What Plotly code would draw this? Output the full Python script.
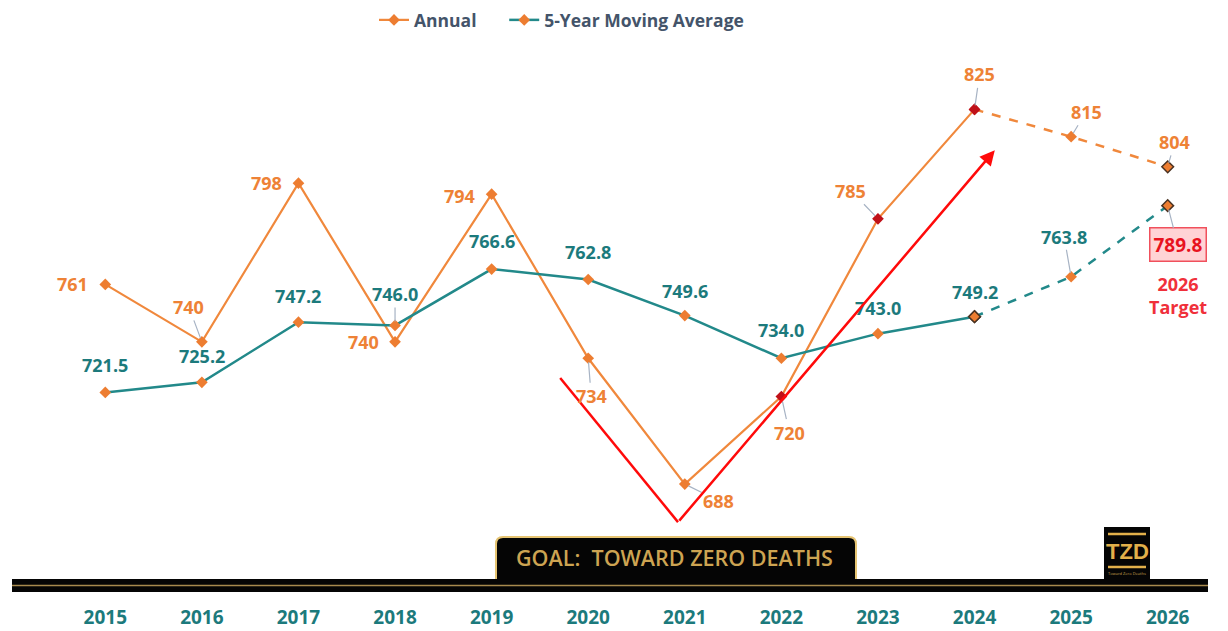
import plotly.graph_objects as go

# ---------------- data ----------------
years = [2015, 2016, 2017, 2018, 2019, 2020, 2021, 2022, 2023, 2024, 2025, 2026]
annual = [761, 740, 798, 740, 794, 734, 688, 720, 785, 825, 815, 804]
moving_avg = [721.5, 725.2, 747.2, 746.0, 766.6, 762.8, 749.6, 734.0, 743.0, 749.2, 763.8, 789.8]
series_names = ["Annual", "5-Year Moving Average"]
target_caption = "2026<br>Target"
goal_text = "GOAL:\u00a0 TOWARD ZERO DEATHS"
logo_text = "TZD"
logo_sub = "Toward Zero Deaths"
last_actual = 2024

# ---------------- styles ----------------
ORANGE = "#ED7D31"
ORANGE_LINE = "#F0883C"
ORANGE_TXT = "#EE8236"
DARKRED = "#C01018"
TEAL = "#22898A"
TEAL_TXT = "#1C7A7C"
OUTLINE = "#4A3222"
LEADER = "#A7B3C4"
GOLD = "#CDA452"
RED = "#FF0A0A"
FONT = "Open Sans"

W, H = 1228, 631
ML, MR, MT, MB = 57, 12, 41, 43
PW, PH = W - ML - MR, H - MT - MB


def px(x):
    return (x - ML) / PW


def py(y):
    return (H - MB - y) / PH


split = years.index(last_actual)
special_red = {2022, 2023, 2024}
outlined_ann = {2026}
outlined_ma = {2024, 2026}

ann_colors = [DARKRED if y in special_red else ORANGE for y in years]
ann_lc = [OUTLINE if y in outlined_ann else "rgba(0,0,0,0)" for y in years]
ann_lw = [1.5 if y in outlined_ann else 0 for y in years]
ma_colors = [ORANGE for _ in years]
ma_lc = [OUTLINE if y in outlined_ma else "rgba(0,0,0,0)" for y in years]
ma_lw = [1.5 if y in outlined_ma else 0 for y in years]

fig = go.Figure()

# dashed projections (drawn first)
fig.add_trace(go.Scatter(
    x=years[split:], y=annual[split:], mode="lines+markers", showlegend=False,
    line=dict(color=ORANGE_LINE, width=2.5, dash="dash"),
    marker=dict(symbol="diamond", size=9, color=ann_colors[split:],
                line=dict(color=ann_lc[split:], width=ann_lw[split:])),
    hoverinfo="skip"))
fig.add_trace(go.Scatter(
    x=years[split:], y=moving_avg[split:], mode="lines+markers", showlegend=False,
    line=dict(color=TEAL, width=2.5, dash="dash"),
    marker=dict(symbol="diamond", size=9, color=ma_colors[split:],
                line=dict(color=ma_lc[split:], width=ma_lw[split:])),
    hoverinfo="skip"))

# solid actuals
fig.add_trace(go.Scatter(
    x=years[:split + 1], y=annual[:split + 1], mode="lines+markers",
    name=series_names[0] + "\u00a0" * 5,
    line=dict(color=ORANGE_LINE, width=2.2),
    marker=dict(symbol="diamond", size=9, color=ann_colors[:split + 1],
                line=dict(color=ann_lc[:split + 1], width=ann_lw[:split + 1]))))
fig.add_trace(go.Scatter(
    x=years[:split + 1], y=moving_avg[:split + 1], mode="lines+markers", name=series_names[1],
    line=dict(color=TEAL, width=2.5),
    marker=dict(symbol="diamond", size=9, color=ma_colors[:split + 1],
                line=dict(color=ma_lc[:split + 1], width=ma_lw[:split + 1]))))

# ---------------- data labels ----------------
# (ax, ay, leader?) pixel offsets of the label centre from the point
ann_offsets = [(-33, 0, False), (-13, -35, True), (-32, 0, False), (-32, 0, False),
               (-32, 2, False), (3, 38, True), (34, 17, True), (8, 36, True),
               (-27, -28, True), (5, -35, True), (15, -25, True), (7, -25, True)]
ma_offsets = [(0, -27, False), (0, -26, False), (0, -26, False), (0, -31, True),
              (0, -28, False), (0, -27, False), (0, -25, False), (0, -28, False),
              (0, -26, False), (0, -25, False), (-7, -40, True), (10, 39, True)]

annotations = []
for yr, v, (ax, ay, lead) in zip(years, annual, ann_offsets):
    annotations.append(dict(
        x=yr, y=v, xref="x", yref="y", text=f"{v:d}", showarrow=True,
        ax=ax, ay=ay, arrowhead=0, arrowwidth=1.2, standoff=4,
        arrowcolor=LEADER if lead else "rgba(0,0,0,0)",
        font=dict(family=FONT, size=18, color=ORANGE_TXT, weight="bold")))
for i, (yr, v, (ax, ay, lead)) in enumerate(zip(years, moving_avg, ma_offsets)):
    is_target = i == len(years) - 1
    annotations.append(dict(
        x=yr, y=v, xref="x", yref="y", text=f"{v:.1f}", showarrow=True,
        ax=ax, ay=ay, arrowhead=0, arrowwidth=1.2, standoff=4,
        arrowcolor=LEADER if lead else "rgba(0,0,0,0)",
        bgcolor="#FFD3D5" if is_target else None,
        bordercolor="#F0505C" if is_target else None,
        borderwidth=1.5 if is_target else 0, borderpad=3 if is_target else 1,
        font=dict(family=FONT, size=19 if is_target else 18,
                  color="#E8121E" if is_target else TEAL_TXT, weight="bold")))

# target caption
annotations.append(dict(
    x=years[-1], y=moving_avg[-1], xref="x", yref="y", text=target_caption,
    showarrow=True, ax=10, ay=90, arrowcolor="rgba(0,0,0,0)",
    font=dict(family=FONT, size=18, color="#F0303A", weight="bold")))

# red trend "V" arrow (decoration in data coordinates)
v_start = (2019.71, 726.8)
v_bottom = (2020.93, 674.1)
v_tip = (2024.21, 810.1)
annotations.append(dict(
    x=v_tip[0], y=v_tip[1], xref="x", yref="y", ax=v_bottom[0], ay=v_bottom[1],
    axref="x", ayref="y", showarrow=True, arrowhead=2, arrowsize=1.2,
    arrowwidth=2.5, arrowcolor=RED, text=""))

# goal box text
annotations.append(dict(
    x=px(674), y=py(557), xref="paper", yref="paper", xanchor="center", yanchor="middle",
    text=goal_text, showarrow=False,
    font=dict(family=FONT, size=21.5, color=GOLD, weight=600)))
# logo
annotations.append(dict(
    x=px(1127), y=py(551), xref="paper", yref="paper", xanchor="center", yanchor="middle",
    text=logo_text, showarrow=False,
    font=dict(family="Liberation Sans Narrow, Liberation Sans", size=22, color="#E2B04A",
              weight="bold")))
annotations.append(dict(
    x=px(1127), y=py(573), xref="paper", yref="paper", xanchor="center", yanchor="middle",
    text=logo_sub, showarrow=False,
    font=dict(family=FONT, size=4, color="#C9A24E")))


def rounded_top_rect(x0, x1, ytop, ybot, r):
    X0, X1 = px(x0), px(x1)
    Yt, Yb = py(ytop), py(ybot)
    rx, ry = r / PW, r / PH
    return (f"M {X0} {Yb} L {X0} {Yt - ry} Q {X0} {Yt} {X0 + rx} {Yt} "
            f"L {X1 - rx} {Yt} Q {X1} {Yt} {X1} {Yt - ry} L {X1} {Yb} Z")


shapes = [
    # V left leg
    dict(type="line", xref="x", yref="y", x0=v_start[0], y0=v_start[1],
         x1=v_bottom[0], y1=v_bottom[1], line=dict(color=RED, width=2.5)),
    # goal box
    dict(type="path", xref="paper", yref="paper", path=rounded_top_rect(496, 856, 537, 580, 7),
         fillcolor="#050505", line=dict(color="#E6C472", width=2), layer="above"),
    # bottom black ribbon
    dict(type="rect", xref="paper", yref="paper", x0=px(12), x1=px(1208),
         y0=py(579), y1=py(592), fillcolor="#050505", line=dict(width=0), layer="above"),
    dict(type="line", xref="paper", yref="paper", x0=px(12), x1=px(1208),
         y0=py(585.5), y1=py(585.5), line=dict(color="#A88A4E", width=1.5), layer="above"),
    # logo
    dict(type="rect", xref="paper", yref="paper", x0=px(1104), x1=px(1150),
         y0=py(579), y1=py(527), fillcolor="#050505", line=dict(width=0), layer="above"),
    dict(type="line", xref="paper", yref="paper", x0=px(1108), x1=px(1146),
         y0=py(534), y1=py(534), line=dict(color="#E2B04A", width=2.5), layer="above"),
    dict(type="line", xref="paper", yref="paper", x0=px(1108), x1=px(1146),
         y0=py(567), y1=py(567), line=dict(color="#E2B04A", width=2.5), layer="above"),
]

fig.update_layout(
    width=W, height=H,
    margin=dict(l=ML, r=MR, t=MT, b=MB, autoexpand=False),
    paper_bgcolor="white", plot_bgcolor="white",
    showlegend=True,
    legend=dict(orientation="h", x=px(374), xanchor="left", y=py(2), yanchor="top",
                font=dict(family=FONT, size=17.5, color="#44546A", weight="bold"),
                itemwidth=30, traceorder="normal", bgcolor="rgba(0,0,0,0)"),
    xaxis=dict(range=[2014.5, 2026.5], tickvals=years, ticktext=[str(y) for y in years],
               showgrid=False, zeroline=False, showline=False, ticks="",
               ticklabelstandoff=16,
               tickfont=dict(family=FONT, size=19, color=TEAL_TXT, weight="bold")),
    yaxis=dict(range=[650, 850], visible=False),
    annotations=annotations,
    shapes=shapes,
)

fig.write_html("out.html", config={"displayModeBar": False},
               post_script="document.body.style.margin='0';document.body.style.overflow='hidden';")
